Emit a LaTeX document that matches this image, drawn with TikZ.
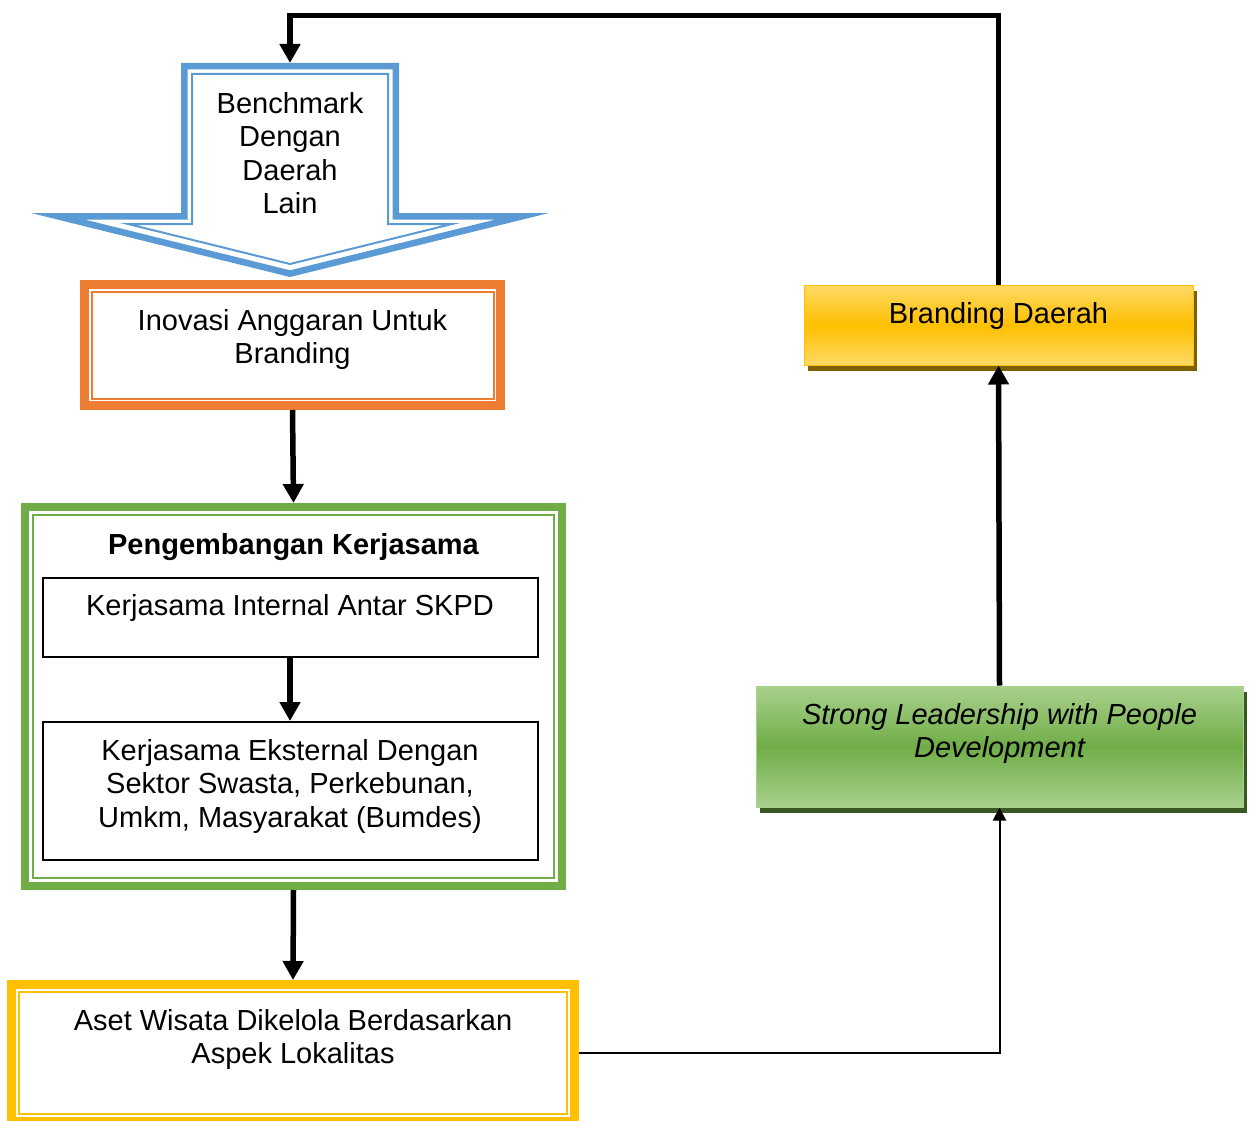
\documentclass[tikz,border=0pt]{standalone}
\usepackage{fontspec}
\setmainfont{Liberation Sans}
\usetikzlibrary{positioning,arrows.meta,shadows}

\definecolor{benchBlue}{RGB}{91,155,213}
\definecolor{inovOrange}{RGB}{237,125,49}
\definecolor{kerjaGreen}{RGB}{112,173,71}
\definecolor{asetGold}{RGB}{255,192,0}
\definecolor{goldLight}{RGB}{255,217,102}
\definecolor{goldShadow}{RGB}{127,96,0}
\definecolor{greenLight}{RGB}{169,209,142}
\definecolor{greenShadow}{RGB}{56,87,35}

\newcommand\boxfont{\fontsize{29}{33.5}\selectfont}

\tikzset{
  txt/.style={align=center, inner sep=0pt, font=\boxfont},
  dblframe/.style={draw=#1, line width=9pt, inner sep=0pt},
  plainbox/.style={draw=black, line width=2pt, inner sep=0pt},
  effectbox/.style n args={4}{draw=#1, line width=1pt, inner sep=0pt,
    top color=#3, bottom color=#3, middle color=#2,
    drop shadow={shadow xshift=4pt, shadow yshift=-6pt, fill=#4, opacity=1}},
  flow/.style={line width=5.5pt, -{Triangle[width=20pt,length=19pt]}},
  thinflow/.style={line width=2pt, -{Triangle[width=13pt,length=13pt]}},
}

\begin{document}
\begin{tikzpicture}[x=1pt, y=-1pt]

  \fill[white] (0,0) rectangle (1253,1121);
  \useasboundingbox (0,0) rectangle (1253,1121);

  % block arrow
  \fill[benchBlue, even odd rule]
    (181,63) -- (399,63) -- (399,213) -- (549,213) -- (290,277) -- (31,213) -- (181,213) -- cycle
    (187.5,69.5) -- (392.5,69.5) -- (392.5,219.5) -- (495.6,219.5) -- (290,270.3) -- (84.4,219.5) -- (187.5,219.5) -- cycle;
  \draw[benchBlue, line width=2pt]
    (192,74) -- (388,74) -- (388,224) -- (452,224) -- (290,264) -- (128,224) -- (192,224) -- cycle;
  \coordinate (benchTop) at (290,63);
  \node[txt, below=26.5pt of benchTop] (bench) {\strut Benchmark\\ \strut Dengan\\ \strut Daerah\\ \strut Lain};

  \node[dblframe=inovOrange, minimum width=416pt, minimum height=121pt] (inovasi) at (292.5,345) {};
  \node[txt, below=26.5pt of inovasi.north] (inovasiTxt) {\strut Inovasi Anggaran Untuk\\ \strut Branding};

  \node[dblframe=kerjaGreen, line width=8pt, minimum width=537pt, minimum height=379pt] (kerja) at (293.5,696.5) {};
  \node[txt, font=\boxfont\bfseries, below=27.5pt of kerja.north] (kerjaTxt) {\strut Pengembangan Kerjasama};
  \node[plainbox, minimum width=495pt, minimum height=79pt] (internal) at (290,617.5) {};
  \node[txt, below=15pt of internal.north] (internalTxt) {\strut Kerjasama Internal Antar SKPD};
  \node[plainbox, minimum width=495pt, minimum height=138pt] (eksternal) at (290,791) {};
  \node[txt, below=15.5pt of eksternal.north] (eksternalTxt)
    {\strut Kerjasama Eksternal Dengan\\ \strut Sektor Swasta, Perkebunan,\\ \strut Umkm, Masyarakat (Bumdes)};

  \node[dblframe=asetGold, minimum width=563pt, minimum height=136.5pt] (aset) at (293,1052.75) {};
  \node[txt, below=26.5pt of aset.north] (asetTxt) {\strut Aset Wisata Dikelola Berdasarkan\\ \strut Aspek Lokalitas};

  \foreach \n/\c/\d in {inovasi/inovOrange/11.5, kerja/kerjaGreen/12, aset/asetGold/12}
    \draw[\c, line width=2pt] ([shift={(\d,\d)}]\n.north west) rectangle ([shift={(-\d,-\d)}]\n.south east);

  \node[effectbox={asetGold}{asetGold}{goldLight}{goldShadow}, minimum width=389pt, minimum height=80pt] (brand) at (998.5,325) {};
  \node[txt, below=15.5pt of brand.north] (brandTxt) {\strut Branding Daerah};

  \node[effectbox={greenLight}{kerjaGreen}{greenLight}{greenShadow}, minimum width=487pt, minimum height=121pt] (lead) at (999.5,746.5) {};
  \node[txt, font=\boxfont\itshape, below=15pt of lead.north] (leadTxt) {\strut Strong Leadership with People\\ \strut Development};

  \draw[flow] (inovasi.south) -- (kerja.north);
  \draw[flow] (internal.south) -- (eksternal.north);
  \draw[flow] (kerja.south) -- (aset.north);
  \draw[thinflow] (aset.east) -| (lead.south);
  \draw[flow] (lead.north) -- (brand.south);
  \coordinate (loopTop) at (290,15.5);
  \draw[flow] (brand.north) |- (loopTop) -- (benchTop);

\end{tikzpicture}
\end{document}
